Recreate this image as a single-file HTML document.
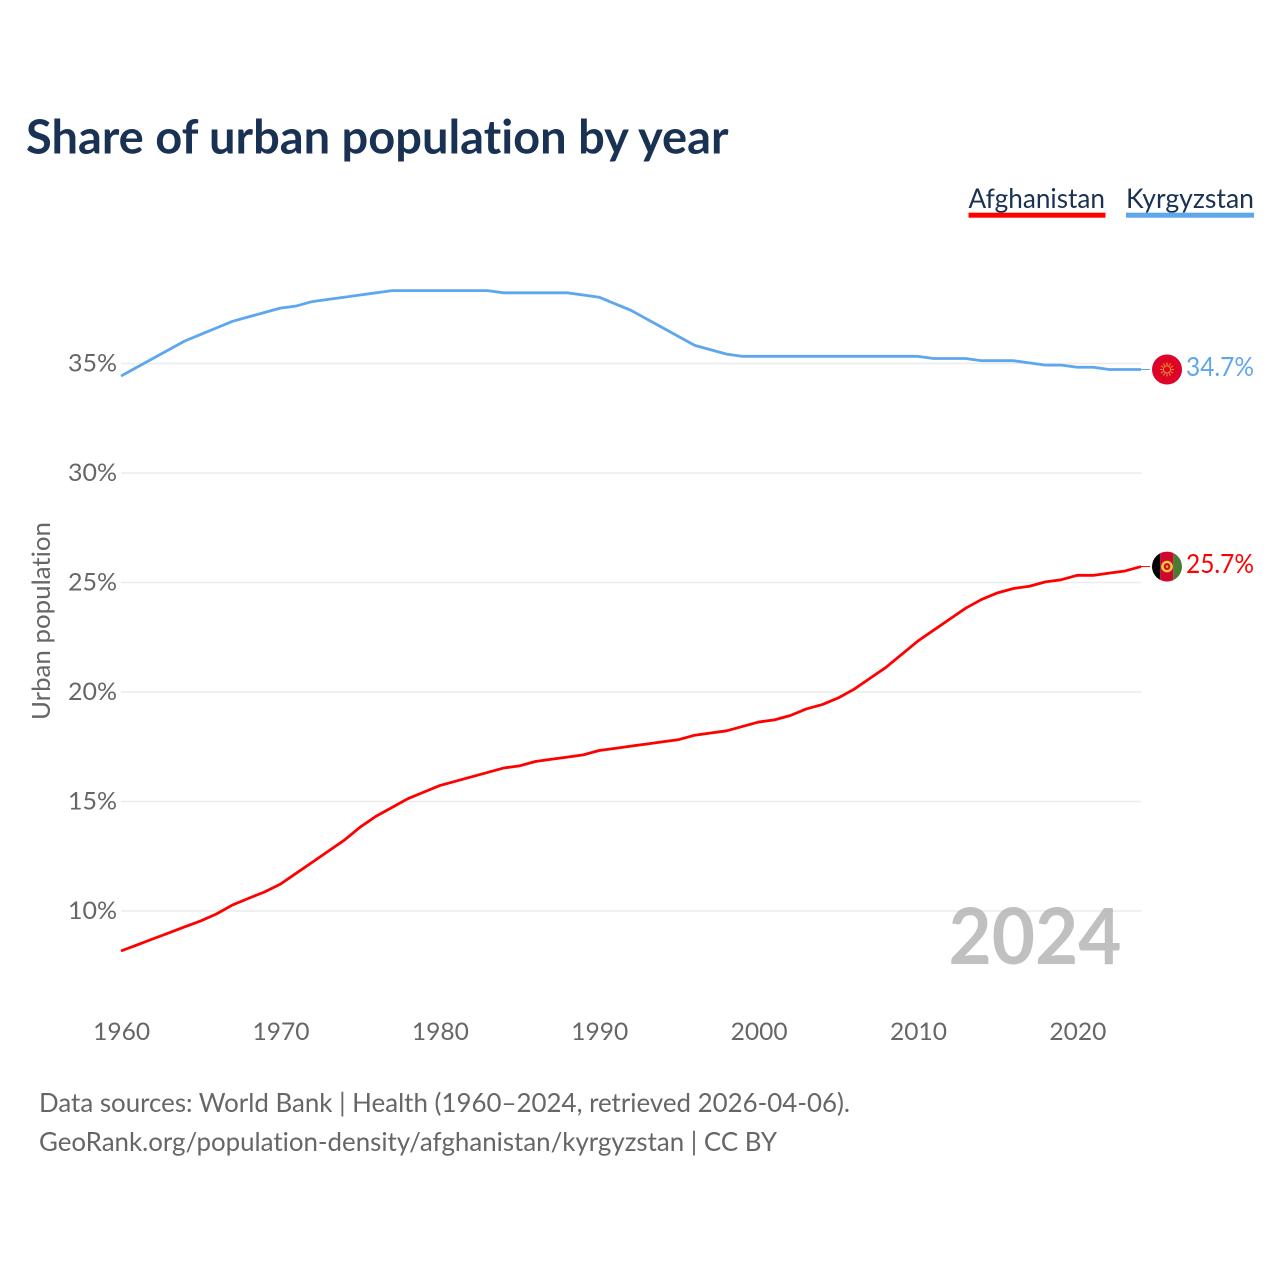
<!DOCTYPE html>
<html lang="en">
<head>
<meta charset="utf-8">
<title>Share of urban population by year</title>
<style>
html,body{margin:0;padding:0;background:#fff;}
svg{display:block;font-family:"Lato","Carlito","Liberation Sans",sans-serif;font-variant-ligatures:none;}
</style>
</head>
<body>
<svg id="chart" xmlns="http://www.w3.org/2000/svg" width="1280" height="1280" viewBox="0 0 1280 1280">
  <rect x="0" y="0" width="1280" height="1280" fill="#ffffff"/>
  <text x="26" y="153.5" font-size="47" font-weight="700" fill="#193254" textLength="702.5" lengthAdjust="spacingAndGlyphs">Share of urban population by year</text>

  <g>
    <text x="968.5" y="208" font-size="27" fill="#193254" textLength="136.5" lengthAdjust="spacingAndGlyphs">Afghanistan</text>
    <rect x="968.5" y="212.7" width="137" height="5" fill="#ff0000"/>
  </g>
  <g>
    <text x="1126" y="208" font-size="27" fill="#193254" textLength="128" lengthAdjust="spacingAndGlyphs">Kyrgyzstan</text>
    <rect x="1126" y="212.7" width="128" height="5" fill="#5ea6ee"/>
  </g>

  <text transform="translate(50,720) rotate(-90)" x="0" y="0" font-size="25.5" fill="#666666" textLength="198" lengthAdjust="spacingAndGlyphs">Urban population</text>

  <g id="grid"></g>
  <g id="yticks"></g>
  <g id="xticks"></g>

  <text x="948.5" y="964" font-size="78" font-weight="700" fill="#a8a8a8" fill-opacity="0.72" textLength="173" lengthAdjust="spacingAndGlyphs">2024</text>

  <g id="series"></g>
  <g id="endlabels"></g>

  <text x="39" y="1112" font-size="26" fill="#666666" textLength="811" lengthAdjust="spacingAndGlyphs">Data sources: World Bank | Health (1960–2024, retrieved 2026-04-06).</text>
  <text x="39" y="1151" font-size="26" fill="#666666" textLength="738" lengthAdjust="spacingAndGlyphs">GeoRank.org/population-density/afghanistan/kyrgyzstan | CC BY</text>
</svg>
<script>
const years = [1960,1961,1962,1963,1964,1965,1966,1967,1968,1969,1970,1971,1972,1973,1974,1975,1976,1977,1978,1979,1980,1981,1982,1983,1984,1985,1986,1987,1988,1989,1990,1991,1992,1993,1994,1995,1996,1997,1998,1999,2000,2001,2002,2003,2004,2005,2006,2007,2008,2009,2010,2011,2012,2013,2014,2015,2016,2017,2018,2019,2020,2021,2022,2023,2024];
const afghanistan = [8.15,8.42,8.7,8.97,9.25,9.52,9.84,10.25,10.55,10.84,11.2,11.7,12.2,12.7,13.2,13.8,14.3,14.7,15.1,15.4,15.7,15.9,16.1,16.3,16.5,16.6,16.8,16.9,17.0,17.1,17.3,17.4,17.5,17.6,17.7,17.8,18.0,18.1,18.2,18.4,18.6,18.7,18.9,19.2,19.4,19.7,20.1,20.6,21.1,21.7,22.3,22.8,23.3,23.8,24.2,24.5,24.7,24.8,25.0,25.1,25.3,25.3,25.4,25.5,25.7];
const kyrgyzstan = [34.4,34.8,35.2,35.6,36.0,36.3,36.6,36.9,37.1,37.3,37.5,37.6,37.8,37.9,38.0,38.1,38.2,38.3,38.3,38.3,38.3,38.3,38.3,38.3,38.2,38.2,38.2,38.2,38.2,38.1,38.0,37.7,37.4,37.0,36.6,36.2,35.8,35.6,35.4,35.3,35.3,35.3,35.3,35.3,35.3,35.3,35.3,35.3,35.3,35.3,35.3,35.2,35.2,35.2,35.1,35.1,35.1,35.0,34.9,34.9,34.8,34.8,34.7,34.7,34.7];
const xTickYears = [1960,1970,1980,1990,2000,2010,2020];
const yTickValues = [10,15,20,25,30,35];

const NS = 'http://www.w3.org/2000/svg';
function xScale(year){ return 121 + (year - 1960) * (1141 - 121) / 64; }
function yScale(value){ return 911 - (value - 10) * 21.9; }
function yMark(value){ return yScale(value) - 0.6; }
function make(tag, parent, attrs){
  const el = document.createElementNS(NS, tag);
  for (const k in attrs) el.setAttribute(k, attrs[k]);
  parent.appendChild(el);
  return el;
}

const gridG = document.getElementById('grid');
const yG = document.getElementById('yticks');
yTickValues.forEach(function(v){
  const line = make('line', gridG, {x1:121, x2:1141.5, y1:yScale(v), y2:yScale(v), stroke:'#ececec', 'stroke-width':1.5});
  
  
  const t = make('text', yG, {x:117, y:yScale(v)+8, 'text-anchor':'end', 'font-size':24.5, fill:'#666666', textLength:49, lengthAdjust:'spacingAndGlyphs'});
  
  
  t.textContent = v + '%';
});

const xG = document.getElementById('xticks');
xTickYears.forEach(function(y){
  const t = make('text', xG, {x:xScale(y)+0.6, y:1040, 'text-anchor':'middle', 'font-size':24.5, fill:'#666666', textLength:57, lengthAdjust:'spacingAndGlyphs'});
  
  
  t.textContent = y;
});

function linePoints(values){
  return values.map(function(v,i){ return xScale(years[i]).toFixed(2) + ',' + yMark(v).toFixed(2); }).join(' ');
}
const seriesG = document.getElementById('series');
const kLine = make('polyline', seriesG, {points:linePoints(kyrgyzstan), fill:'none', stroke:'#5ea6ee', 'stroke-width':2.8, 'stroke-linejoin':'round'});


const aLine = make('polyline', seriesG, {points:linePoints(afghanistan), fill:'none', stroke:'#ff0000', 'stroke-width':2.8, 'stroke-linejoin':'round'});



const endG = document.getElementById('endlabels');
const FX = 1167, R = 15;

// Kyrgyzstan end marker
const kv = kyrgyzstan[kyrgyzstan.length-1];
const ky = yMark(kv);
const kConn = make('line', endG, {x1:1141, x2:1150, y1:ky, y2:ky, stroke:'#5ea6ee', 'stroke-width':1});


const kFlag = make('g', endG, {transform:'translate(' + FX + ',' + ky + ')'});


make('circle', kFlag, {r:R, fill:'#dd0428'});
for (let a = 0; a < 360; a += 30) {
  make('line', kFlag, {x1:0, y1:-4.5, x2:0, y2:-7, stroke:'#e89a2a', 'stroke-width':1, transform:'rotate(' + a + ')'});
}
make('circle', kFlag, {r:3.6, fill:'none', stroke:'#e89a2a', 'stroke-width':1});
const kTxt = make('text', endG, {x:1186, y:ky+6.5, 'font-size':26, fill:'#5ea6ee', textLength:68, lengthAdjust:'spacingAndGlyphs'});


kTxt.textContent = kv.toFixed(1) + '%';

// Afghanistan end marker
const av = afghanistan[afghanistan.length-1];
const ay = yMark(av);
const aConn = make('line', endG, {x1:1141, x2:1150, y1:ay, y2:ay, stroke:'#ff0000', 'stroke-width':1});


const aFlag = make('g', endG, {transform:'translate(' + FX + ',' + ay + ')'});


const clip = make('clipPath', aFlag, {id:'afClip'});
make('circle', clip, {r:R});
const stripes = make('g', aFlag, {'clip-path':'url(#afClip)'});
make('rect', stripes, {x:-R, y:-R, width:8.3, height:2*R, fill:'#000000'});
make('rect', stripes, {x:-6.7, y:-R, width:13, height:2*R, fill:'#d3062e'});
make('rect', stripes, {x:6.3, y:-R, width:8.7, height:2*R, fill:'#4a7a33'});
make('circle', aFlag, {r:4.6, fill:'none', stroke:'#f4cf3a', 'stroke-width':2.4});
make('circle', aFlag, {r:1.3, fill:'#e8a62a'});
const aTxt = make('text', endG, {x:1186, y:ay+6.5, 'font-size':26, fill:'#ff0000', textLength:68, lengthAdjust:'spacingAndGlyphs'});


aTxt.textContent = av.toFixed(1) + '%';
</script>
</body>
</html>
